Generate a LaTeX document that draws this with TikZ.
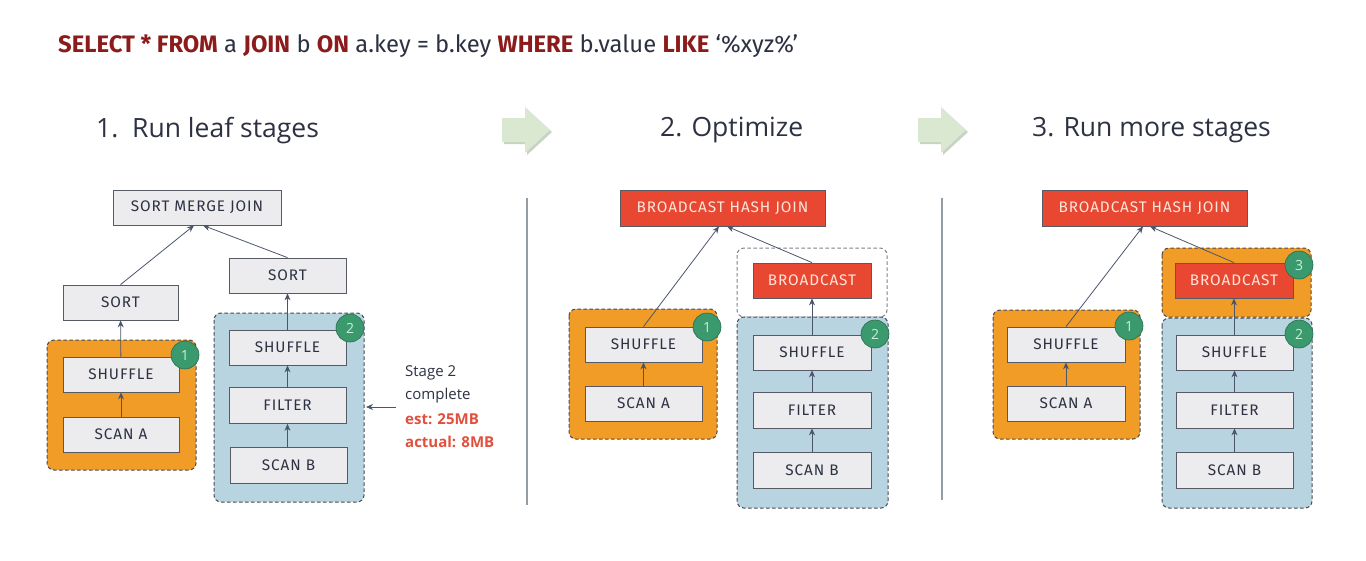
\documentclass[tikz,border=0pt]{standalone}
\usepackage{fontspec}
\setmainfont{Open Sans}
\newfontfamily\titlefont{Fira Sans}
\newfontfamily\boxfont[LetterSpace=6]{Fira Sans}
\newfontfamily\headfont{Open Sans}
\usetikzlibrary{arrows.meta,calc}
\definecolor{navy}{RGB}{45,49,66}
\definecolor{darkred}{RGB}{140,28,28}
\definecolor{boxfill}{RGB}{236,236,238}
\definecolor{boxline}{RGB}{85,90,100}
\definecolor{grpline}{RGB}{70,74,84}
\definecolor{orangefill}{RGB}{242,156,40}
\definecolor{bluefill}{RGB}{184,212,224}
\definecolor{rednode}{RGB}{232,72,50}
\definecolor{rednodetext}{RGB}{255,228,218}
\definecolor{badgegreen}{RGB}{58,154,110}
\definecolor{badgetext}{RGB}{200,240,216}
\definecolor{arrowcol}{RGB}{75,85,105}
\definecolor{annored}{RGB}{224,80,60}
\definecolor{blockgreen}{RGB}{218,232,210}
\definecolor{blockshadow}{RGB}{200,212,195}
\definecolor{sepgray}{RGB}{150,156,164}
\tikzset{
  opbox/.style={draw=boxline, line width=0.8pt, fill=boxfill, minimum height=35pt, inner sep=0pt,
    font=\boxfont\fontsize{15.3}{17}\selectfont, text=navy},
  redbox/.style={opbox, fill=rednode, text=rednodetext},
  grp/.style={draw=grpline, dash pattern=on 3.5pt off 2.5pt, line width=1pt, rounded corners=7pt},
  orangegrp/.style={grp, fill=orangefill},
  bluegrp/.style={grp, fill=bluefill},
  whitegrp/.style={grp, fill=white, draw=grpline!70},
  badge/.style={circle, fill=badgegreen, draw=badgegreen!70!black, line width=0.6pt, minimum size=28pt, inner sep=0pt,
    text=badgetext, font=\fontsize{14}{16}\selectfont},
  flow/.style={draw=arrowcol, line width=0.8pt, -{Stealth[length=7pt,width=6pt]}},
  heading/.style={font=\headfont\fontsize{26.5}{30}\selectfont, text=navy, inner sep=0pt},
  sep/.style={draw=sepgray, line width=1.1pt},
  anno/.style={font=\fontsize{15}{17}\selectfont, text=navy, inner sep=0pt, anchor=west},
  annob/.style={anno, text=annored, font=\bfseries\fontsize{15}{17}\selectfont},
  blockarrow/.style={fill=blockgreen}
}
\newcommand{\kw}[1]{\textcolor{darkred}{\bfseries #1}}
\begin{document}
\begin{tikzpicture}[x=1pt,y=-1pt]
\useasboundingbox (0,0) rectangle (1366,560);

% title
\node[anchor=west, inner sep=0pt, text=navy, font=\titlefont\fontsize{23.8}{28}\selectfont] (title) at (58,46)
  {\kw{SELECT * FROM} a \kw{JOIN} b \kw{ON} a.key = b.key \kw{WHERE} b.value \kw{LIKE} ‘\%xyz\%’};

% headings
\node[heading, anchor=west] (h1) at (96,131) {1.\ \ Run leaf stages};
\node[heading, anchor=west] (h2) at (660,130) {2. Optimize};
\node[heading, anchor=west] (h3) at (1032,130) {3. Run more stages};

% block arrows
\foreach \dx in {0,416} {
  \fill[blockshadow, xshift=\dx+2, yshift=-2] (502,118) -- (525,118) -- (525,107) -- (550,130) -- (525,153) -- (525,142) -- (502,142) -- cycle;
  \fill[blockgreen, xshift=\dx] (502,118) -- (525,118) -- (525,107) -- (550,130) -- (525,153) -- (525,142) -- (502,142) -- cycle;
}

% separators
\coordinate (s1a) at (527,198); \coordinate (s1b) at (527,505);
\coordinate (s2a) at (942,198); \coordinate (s2b) at (942,500);
\draw[sep] (s1a) -- (s1b);
\draw[sep] (s2a) -- (s2b);

% ===== Panel 1 =====
\filldraw[orangegrp] (47,340) rectangle (196,470);
\filldraw[bluegrp] (214,313) rectangle (364,502);
\node[opbox, minimum width=168pt] (smj) at (197,207.5) {SORT MERGE JOIN};
\node[opbox, minimum width=115pt] (sortL) at (120.5,302.5) {SORT};
\node[opbox, minimum width=117pt] (sortR) at (287.5,275.5) {SORT};
\node[opbox, minimum width=116pt] (shufL) at (121,374.5) {SHUFFLE};
\node[opbox, minimum width=116pt] (scanA) at (121,434.5) {SCAN A};
\node[opbox, minimum width=117pt] (shufR) at (287.5,347.5) {SHUFFLE};
\node[opbox, minimum width=117pt, minimum height=36pt] (filt) at (287.5,405.5) {FILTER};
\node[opbox, minimum width=117pt, minimum height=36pt] (scanB) at (288.5,465) {SCAN B};
\node[badge] (b1p1) at (185,355) {1};
\node[badge] (b2p1) at (350,328) {2};
\draw[flow] (scanA) -- (shufL);
\draw[flow] (shufL) -- (sortL);
\draw[flow] (sortL.north) -- ([xshift=-3pt]smj.south);
\draw[flow] (scanB.north -| filt) -- (filt);
\draw[flow] (filt) -- (shufR);
\draw[flow] (shufR) -- (sortR);
\draw[flow] (sortR.north) -- ([xshift=6pt]smj.south);
% annotation
\node[anno] (a1) at (405,373) {Stage 2};
\node[anno] (a2) at (405,396) {complete};
\node[annob] (a3) at (405,419) {est: 25MB};
\node[annob] (a4) at (405,442) {actual: 8MB};
\coordinate (annoStart) at (396,407);
\coordinate (annoEnd) at (366,407);
\draw[flow] (annoStart) -- (annoEnd);

% ===== Panel 2 =====
\filldraw[whitegrp] (737,248) rectangle (887,317);
\filldraw[orangegrp] (569,309) rectangle (717,439);
\filldraw[bluegrp] (737,317) rectangle (888,508);
\node[redbox, minimum width=205pt, minimum height=36pt] (bhj2) at (722.5,208) {BROADCAST HASH JOIN};
\node[redbox, minimum width=118pt] (bc2) at (812,280.5) {BROADCAST};
\node[opbox, minimum width=117pt] (shufA2) at (643.5,344.5) {SHUFFLE};
\node[opbox, minimum width=117pt] (scanA2) at (643.5,403.5) {SCAN A};
\node[opbox, minimum width=118pt] (shufB2) at (812,352.5) {SHUFFLE};
\node[opbox, minimum width=118pt, minimum height=36pt] (filt2) at (812,410) {FILTER};
\node[opbox, minimum width=118pt, minimum height=36pt] (scanB2) at (812,470) {SCAN B};
\node[badge] (b1p2) at (707,327) {1};
\node[badge] (b2p2) at (875,334) {2};
\draw[flow] (scanA2) -- (shufA2);
\draw[flow] (shufA2.north) -- ([xshift=-3.5pt]bhj2.south);
\draw[flow] (scanB2) -- (filt2);
\draw[flow] (filt2) -- (shufB2);
\draw[flow] (shufB2) -- (bc2);
\draw[flow] (bc2.north) -- ([xshift=4.5pt]bhj2.south);

% ===== Panel 3 =====
\filldraw[orangegrp] (1162,248) rectangle (1311,317);
\filldraw[orangegrp] (993,310) rectangle (1140,439);
\filldraw[bluegrp] (1162,318) rectangle (1312,508);
\node[redbox, minimum width=205pt, minimum height=36pt] (bhj3) at (1144.5,208) {BROADCAST HASH JOIN};
\node[redbox, minimum width=118pt] (bc3) at (1234,280.5) {BROADCAST};
\node[opbox, minimum width=118pt] (shufA3) at (1066,344.5) {SHUFFLE};
\node[opbox, minimum width=118pt] (scanA3) at (1066,403.5) {SCAN A};
\node[opbox, minimum width=117pt] (shufB3) at (1234.5,352.5) {SHUFFLE};
\node[opbox, minimum width=117pt, minimum height=36pt] (filt3) at (1234.5,410) {FILTER};
\node[opbox, minimum width=117pt, minimum height=36pt] (scanB3) at (1234.5,470) {SCAN B};
\node[badge] (b3p3) at (1299,265) {3};
\node[badge] (b1p3) at (1129,326) {1};
\node[badge] (b2p3) at (1299,334) {2};
\draw[flow] (scanA3) -- (shufA3);
\draw[flow] (shufA3.north) -- ([xshift=-1.5pt]bhj3.south);
\draw[flow] (scanB3) -- (filt3);
\draw[flow] (filt3) -- (shufB3);
\draw[flow] (shufB3.north -| bc3) -- (bc3);
\draw[flow] (bc3.north) -- ([xshift=5.5pt]bhj3.south);
\end{tikzpicture}
\end{document}
